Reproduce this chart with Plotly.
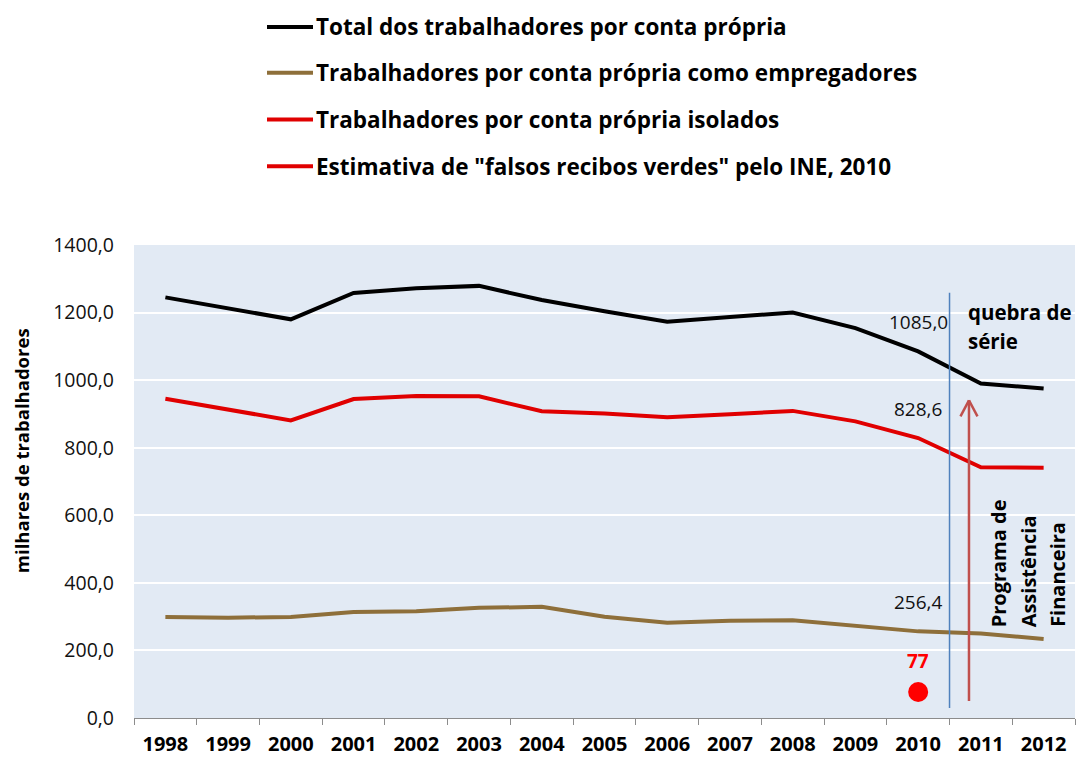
import plotly.graph_objects as go

# ---------------- data ----------------
years = [str(y) for y in range(1998, 2013)]
total = [1245, 1213, 1180, 1258, 1272, 1279, 1237, 1204, 1173, 1187, 1200, 1154, 1085.0, 990, 975]
empregadores = [299, 297, 299, 314, 316, 326, 329, 300, 282, 288, 289, 273, 256.4, 250, 234]
isolados = [945, 913, 881, 944, 953, 952, 908, 901, 890, 899, 909, 878, 828.6, 742, 741]
falsos_years = ["2010"]
falsos = [77]
series_names = [
    "Total dos trabalhadores por conta própria",
    "Trabalhadores por conta própria como empregadores",
    "Trabalhadores por conta própria isolados",
    'Estimativa de "falsos recibos verdes" pelo INE, 2010',
]
label_year = "2010"
y_ticks = [0, 200, 400, 600, 800, 1000, 1200, 1400]

# ---------------- style ----------------
W, H = 1076, 758
PL, PR, PT, PB = 134, 1075, 245, 720   # plot area in px
FONT = "Open Sans"
C_BLACK = "#000000"
C_BROWN = "#8E6F3A"
C_RED = "#E00000"
C_DOT = "#FF0000"
C_BG = "#E2EAF4"


def px_x(p):
    return (p - PL) / (PR - PL)


def px_y(p):
    return (PB - p) / (PB - PT)


fig = go.Figure()
colors = [C_BLACK, C_BROWN, C_RED]
for name, vals, col in zip(series_names[:3], [total, empregadores, isolados], colors):
    fig.add_trace(go.Scatter(x=years, y=vals, mode="lines", name=name,
                             line=dict(color=col, width=4), showlegend=False))
fig.add_trace(go.Scatter(x=falsos_years, y=falsos, mode="markers", name=series_names[3],
                         marker=dict(color=C_DOT, size=20), showlegend=False))

idx = years.index(label_year)
fidx = years.index(falsos_years[0])
annotations = []
shapes = []

# data labels at 2010
for vals in [total, isolados, empregadores]:
    annotations.append(dict(x=idx, y=vals[idx], text=f"{vals[idx]:.1f}".replace(".", ","),
                            showarrow=False, xanchor="center", yanchor="middle", yshift=29,
                            font=dict(family=FONT, size=19, color="#111111")))
annotations.append(dict(x=fidx, y=falsos[0], text=f"<b>{falsos[0]}</b>",
                        showarrow=False, xanchor="center", yanchor="middle", yshift=31,
                        font=dict(family=FONT, size=19, color=C_DOT)))

# manual legend
leg_rows = [26, 72, 119, 166]
leg_cols = [C_BLACK, C_BROWN, C_RED, C_RED]
for name, row, col in zip(series_names, leg_rows, leg_cols):
    shapes.append(dict(type="line", xref="paper", yref="paper", x0=px_x(267), x1=px_x(313),
                       y0=px_y(row), y1=px_y(row), line=dict(color=col, width=4)))
    annotations.append(dict(xref="paper", yref="paper", x=px_x(314), y=px_y(row),
                            text=f"<b>{name}</b>", showarrow=False, xanchor="left", yanchor="middle",
                            font=dict(family=FONT, size=22.5, color="#000000")))

# series break line
shapes.append(dict(type="line", xref="x", yref="paper", x0=idx + 0.5, x1=idx + 0.5,
                   y0=px_y(710), y1=px_y(293), line=dict(color="#4F81BD", width=1.5)))
# arrow for Programa de Assistência Financeira
ax = idx + 0.81
shapes.append(dict(type="line", xref="x", yref="paper", x0=ax, x1=ax,
                   y0=px_y(703), y1=px_y(401), line=dict(color="#C0504D", width=2.5)))
for dx in (-8.5, 8.5):
    shapes.append(dict(type="line", xref="x", yref="paper", xsizemode="pixel", xanchor=ax,
                       ysizemode="pixel", yanchor=px_y(401), x0=0, x1=dx, y0=0, y1=-16,
                       line=dict(color="#C0504D", width=2.5)))

# quebra de série
for txt, yc in [("quebra de", 312), ("série", 341)]:
    annotations.append(dict(xref="paper", yref="paper", x=px_x(966), y=px_y(yc), text=f"<b>{txt}</b>",
                            showarrow=False, xanchor="left", yanchor="middle",
                            font=dict(family=FONT, size=20.5, color="#000000")))
# rotated text
for txt, xc in [("Programa de", 998), ("Assistência", 1028), ("Financeira", 1058)]:
    annotations.append(dict(xref="paper", yref="paper", x=px_x(xc), y=px_y(631), text=f"<b>{txt}</b>",
                            textangle=-90, showarrow=False, xanchor="center", yanchor="bottom",
                            font=dict(family=FONT, size=20, color="#000000")))

# y axis title
annotations.append(dict(xref="paper", yref="paper", x=px_x(21), y=px_y(452), text="<b>milhares de trabalhadores</b>",
                        textangle=-90, showarrow=False, xanchor="center", yanchor="middle",
                        font=dict(family=FONT, size=18.5, color="#000000")))

fig.update_layout(
    width=W, height=H,
    margin=dict(l=PL, r=W - PR, t=PT, b=H - PB),
    paper_bgcolor="white", plot_bgcolor=C_BG,
    separators=",.",
    font=dict(family=FONT, color="#000000"),
    showlegend=False,
    annotations=annotations, shapes=shapes,
    xaxis=dict(type="category", categoryorder="array", categoryarray=years,
               range=[-0.5, len(years) - 0.5], tickson="boundaries", ticks="outside",
               ticklen=6, tickcolor="#8C8C8C", showline=True, linecolor="#8C8C8C", linewidth=1,
               showgrid=False, tickfont=dict(family=FONT, size=20, color="#000000"),
               ticklabelstandoff=8, tickprefix="<b>", ticksuffix="</b>"),
    yaxis=dict(range=[0, 1400], tickvals=y_ticks, tickformat=".1f", showgrid=True,
               gridcolor="white", gridwidth=1.5, zeroline=False, showline=False, ticks="",
               ticklabelstandoff=19, tickfont=dict(family=FONT, size=19.5, color="#111111")),
)

fig.write_html("out.html", config={"displayModeBar": False},
               post_script="document.body.style.margin='0px';")
